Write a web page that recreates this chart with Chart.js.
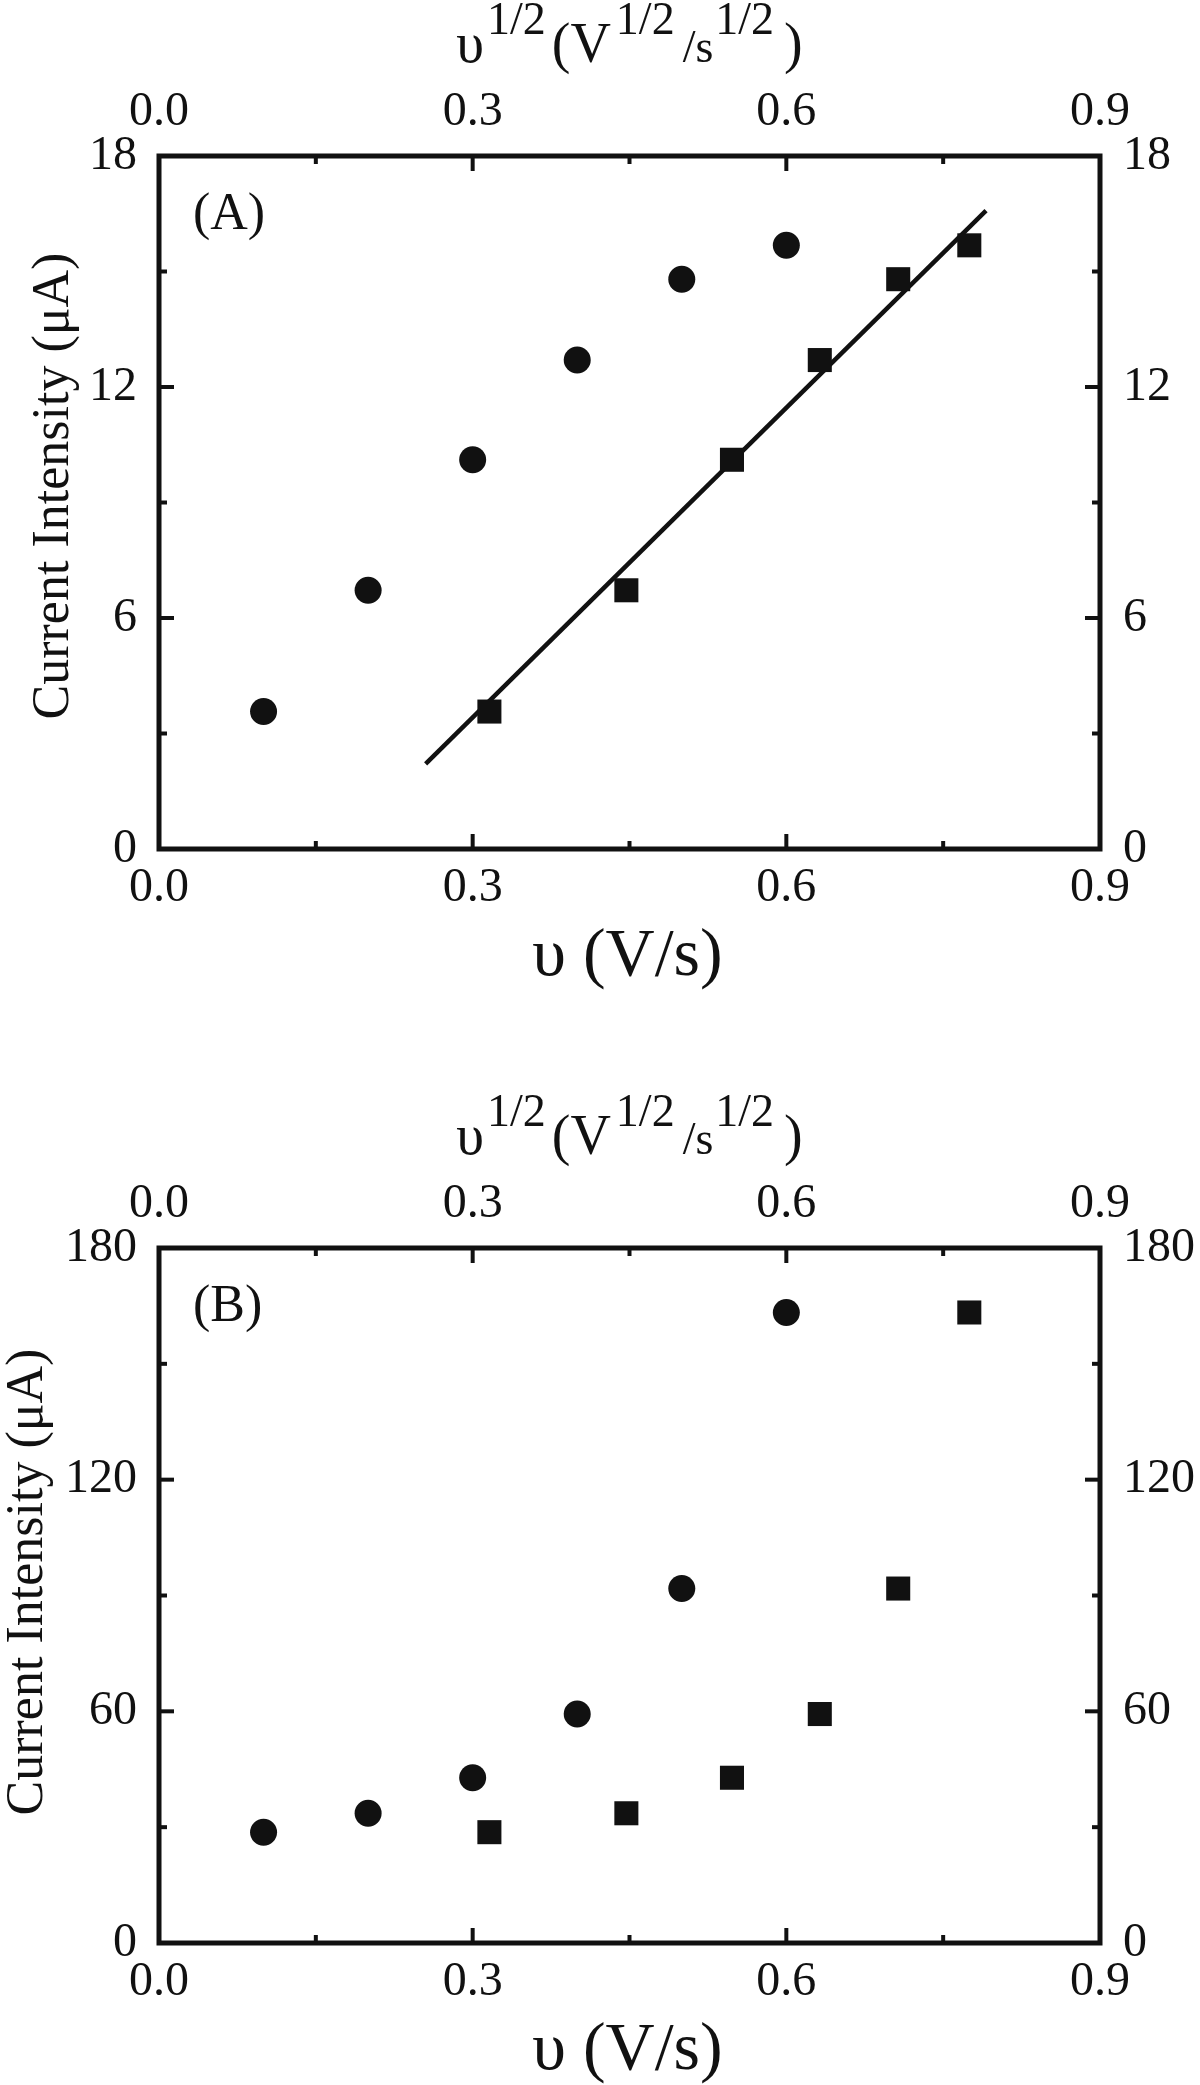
<!DOCTYPE html>
<html>
<head>
<meta charset="utf-8">
<script src="https://cdn.jsdelivr.net/npm/chart.js@4.4.0/dist/chart.umd.min.js"></script>
<style>
  body { margin: 0; background: #fff; }
  #wrap { position: relative; width: 1200px; height: 2085px; }
  canvas { position: absolute; left: 0; }
</style>
</head>
<body>
<div id="wrap">
  <canvas id="chartA" width="1200" height="1040" style="top:0"></canvas>
  <canvas id="chartB" width="1200" height="1045" style="top:1040px"></canvas>
</div>
<script>
// values
const scanRate = [0.1, 0.2, 0.3, 0.4, 0.5, 0.6];
const sqrtScanRate = [0.316, 0.447, 0.548, 0.632, 0.707, 0.775];
const currentA = [3.57, 6.72, 10.11, 12.70, 14.80, 15.68];
const currentB = [28.7, 33.6, 42.8, 59.3, 91.8, 163.3];
const fitLineX = [0.255, 0.791];
const fitLineY = [2.21, 16.58];
const xTicks = [0.0, 0.3, 0.6, 0.9];
const yTicksA = [0, 6, 12, 18];
const yTicksB = [0, 60, 120, 180];

const INK = '#111';
const SERIF = '"Liberation Serif", "Times New Roman", serif';

const toPoints = (xs, ys) => xs.map((x, i) => ({ x: x, y: ys[i] }));

function midpoints(arr) {
  const out = [];
  for (let i = 0; i < arr.length - 1; i++) out.push((arr[i] + arr[i + 1]) / 2);
  return out;
}

function drawRich(ctx, pieces, cx, baseline) {
  let total = 0;
  pieces.forEach(p => {
    ctx.font = p[1] + 'px ' + SERIF;
    total += ctx.measureText(p[0]).width + p[3];
  });
  let x = cx - total / 2;
  ctx.textAlign = 'left';
  ctx.textBaseline = 'alphabetic';
  pieces.forEach(p => {
    ctx.font = p[1] + 'px ' + SERIF;
    ctx.fillText(p[0], x, baseline + p[2]);
    x += ctx.measureText(p[0]).width + p[3];
  });
}

// frame, inward ticks and axis titles
const framePlugin = {
  id: 'frame',
  afterDraw(chart, args, opts) {
    const ctx = chart.ctx;
    const a = chart.chartArea;
    ctx.save();
    ctx.strokeStyle = INK;
    ctx.fillStyle = INK;
    ctx.lineWidth = 5;
    ctx.strokeRect(a.left, a.top, a.right - a.left, a.bottom - a.top);

    ctx.lineWidth = 4;
    const major = 15, minor = 8;
    const tickSets = [
      ['x', xTicks, 'bottom'], ['x2', xTicks, 'top'],
      ['y', opts.yTicks, 'left'], ['y2', opts.yTicks, 'right']
    ];
    tickSets.forEach(([id, ticks, side]) => {
      const s = chart.scales[id];
      const all = ticks.map(v => [v, major]).concat(midpoints(ticks).map(v => [v, minor]));
      all.forEach(([v, len]) => {
        const p = s.getPixelForValue(v);
        ctx.beginPath();
        if (side === 'bottom') { ctx.moveTo(p, a.bottom); ctx.lineTo(p, a.bottom - len); }
        if (side === 'top') { ctx.moveTo(p, a.top); ctx.lineTo(p, a.top + len); }
        if (side === 'left') { ctx.moveTo(a.left, p); ctx.lineTo(a.left + len, p); }
        if (side === 'right') { ctx.moveTo(a.right, p); ctx.lineTo(a.right - len, p); }
        ctx.stroke();
      });
    });

    // panel label
    ctx.font = '52px ' + SERIF;
    ctx.textAlign = 'left';
    ctx.textBaseline = 'alphabetic';
    ctx.fillText(opts.panel, a.left + 34, a.top + 73);

    // top axis title
    drawRich(ctx, [
      ['\u03C5', 56, 0, 3],
      ['1/2', 46, -28, 6],
      ['(V', 56, 0, 5],
      ['1/2', 46, -28, 8],
      ['/s', 46, 0, 2],
      ['1/2', 46, -28, 10],
      [')', 56, 0, 0]
    ], (a.left + a.right) / 2, a.top - 94);

    // bottom axis title
    ctx.font = '68px ' + SERIF;
    ctx.textAlign = 'center';
    ctx.fillText('\u03C5 (V/s)', (a.left + a.right) / 2 - 2, a.bottom + 126);

    // y axis title
    ctx.save();
    ctx.translate(opts.yTitleX, opts.yTitleY);
    ctx.rotate(-Math.PI / 2);
    ctx.font = '52px ' + SERIF;
    ctx.textAlign = 'center';
    ctx.fillText('Current Intensity (\u03BCA)', 0, 0);
    ctx.restore();

    ctx.restore();
  }
};

function makeScales(yTicks, topH, bottomH) {
  const tickFont = { family: SERIF, size: 48 };
  const noGrid = { display: false, drawTicks: false, tickLength: 0 };
  const fixTicks = arr => s => { s.ticks = arr.map(v => ({ value: v })); };
  return {
    x: {
      type: 'linear', position: 'bottom', min: xTicks[0], max: xTicks[xTicks.length - 1],
      grid: noGrid, border: { display: false },
      afterBuildTicks: fixTicks(xTicks),
      afterFit: s => { s.height = bottomH; },
      ticks: { color: INK, font: tickFont, padding: 11, maxRotation: 0, callback: v => v.toFixed(1) }
    },
    x2: {
      type: 'linear', position: 'top', min: xTicks[0], max: xTicks[xTicks.length - 1],
      grid: noGrid, border: { display: false },
      afterBuildTicks: fixTicks(xTicks),
      afterFit: s => { s.height = topH; },
      ticks: { color: INK, font: tickFont, padding: 15, maxRotation: 0, callback: v => v.toFixed(1) }
    },
    y: {
      type: 'linear', position: 'left', min: yTicks[0], max: yTicks[yTicks.length - 1],
      grid: noGrid, border: { display: false },
      afterBuildTicks: fixTicks(yTicks),
      afterFit: s => { s.width = 159; },
      ticks: { color: INK, font: tickFont, padding: 22, callback: v => String(v) }
    },
    y2: {
      type: 'linear', position: 'right', min: yTicks[0], max: yTicks[yTicks.length - 1],
      grid: noGrid, border: { display: false },
      afterBuildTicks: fixTicks(yTicks),
      afterFit: s => { s.width = 100; },
      ticks: { color: INK, font: tickFont, padding: 23, callback: v => String(v) }
    }
  };
}

const circleStyle = {
  pointStyle: 'circle', pointRadius: 13.5, backgroundColor: INK, borderColor: INK, borderWidth: 0, showLine: false
};
const squareStyle = {
  pointStyle: 'rect', pointRadius: 17, backgroundColor: INK, borderColor: INK, borderWidth: 0, showLine: false
};

const commonPlugins = {
  legend: { display: false },
  tooltip: { enabled: false }
};

new Chart('chartA', {
  type: 'scatter',
  data: {
    datasets: [
      Object.assign({ label: 'υ', data: toPoints(scanRate, currentA), xAxisID: 'x', yAxisID: 'y' }, circleStyle),
      Object.assign({ label: 'υ1/2', data: toPoints(sqrtScanRate, currentA), xAxisID: 'x2', yAxisID: 'y' }, squareStyle),
      {
        type: 'line', label: 'fit', data: toPoints(fitLineX, fitLineY), xAxisID: 'x2', yAxisID: 'y',
        borderColor: INK, borderWidth: 4.5, pointRadius: 0, fill: false
      }
    ]
  },
  options: {
    responsive: false, animation: false, devicePixelRatio: 1,
    layout: { padding: 0 },
    scales: makeScales(yTicksA, 156, 1040 - 849),
    plugins: Object.assign({
      frame: { yTicks: yTicksA, panel: '(A)', yTitleX: 68, yTitleY: 486 }
    }, commonPlugins)
  },
  plugins: [framePlugin]
});

new Chart('chartB', {
  type: 'scatter',
  data: {
    datasets: [
      Object.assign({ label: 'υ', data: toPoints(scanRate, currentB), xAxisID: 'x', yAxisID: 'y' }, circleStyle),
      Object.assign({ label: 'υ1/2', data: toPoints(sqrtScanRate, currentB), xAxisID: 'x2', yAxisID: 'y' }, squareStyle)
    ]
  },
  options: {
    responsive: false, animation: false, devicePixelRatio: 1,
    layout: { padding: 0 },
    scales: makeScales(yTicksB, 1248 - 1040, 1045 - (1943 - 1040)),
    plugins: Object.assign({
      frame: { yTicks: yTicksB, panel: '(B)', yTitleX: 42, yTitleY: 1582 - 1040 }
    }, commonPlugins)
  },
  plugins: [framePlugin]
});
</script>
</body>
</html>
